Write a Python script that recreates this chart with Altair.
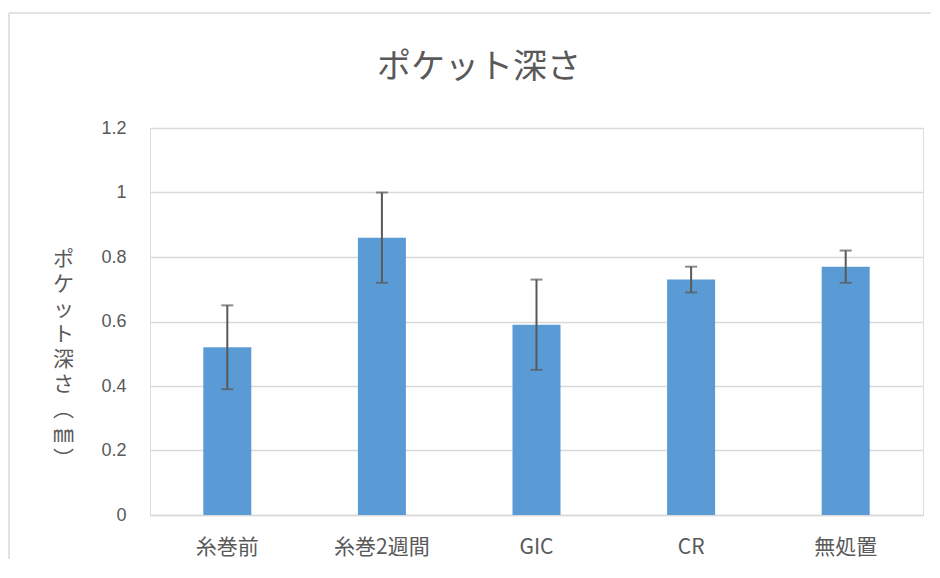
import altair as alt
import pandas as pd

categories = ["糸巻前", "糸巻2週間", "GIC", "CR", "無処置"]
means = [0.52, 0.86, 0.59, 0.73, 0.77]
errors = [0.13, 0.14, 0.14, 0.04, 0.05]

df = pd.DataFrame({
    "cat": categories,
    "mean": means,
    "lo": [m - e for m, e in zip(means, errors)],
    "hi": [m + e for m, e in zip(means, errors)],
})

TEXT = "#595959"
GRID = "#D9D9D9"
JP = "Noto Sans CJK JP"

chart_title = "ポケット深さ"
ytitle = ["ポ", "ケ", "ッ", "ト", "深", "さ", "︵", "㎜", "︶"]

x = alt.X("cat:N", sort=categories, title=None,
          scale=alt.Scale(paddingInner=0, paddingOuter=0),
          axis=alt.Axis(labelAngle=0, labelFont=JP, labelFontSize=21, labelColor=TEXT,
                        labelPadding=21, ticks=False, tickSize=0, domainColor=GRID,
                        domainWidth=1.5, grid=False))
y = alt.Y("mean:Q", title=ytitle,
          scale=alt.Scale(domain=[0, 1.2], nice=False),
          axis=alt.Axis(values=[0, 0.2, 0.4, 0.6, 0.8, 1, 1.2], format="~g",
                        labelFont="Liberation Sans",
                        labelFontSize=18, labelColor=TEXT, labelPadding=24, ticks=False,
                        tickSize=0, domain=False, gridColor=GRID, gridWidth=1.5,
                        titleAngle=0, titleFont=JP, titleFontSize=21, titleColor=TEXT,
                        titleFontWeight="normal", titleLineHeight=25, titleAlign="center",
                        titleBaseline="top", titleX=-87, titleY=120))

base = alt.Chart(df)

bars = base.mark_bar(size=48, color="#5B9BD5").encode(x=x, y=y)
rules = base.mark_rule(color=TEXT, strokeWidth=2).encode(
    x=alt.X("cat:N", sort=categories), y="lo:Q", y2="hi:Q")
caps_hi = base.mark_tick(color=TEXT, size=12, thickness=2).encode(
    x=alt.X("cat:N", sort=categories), y="hi:Q")
caps_lo = base.mark_tick(color=TEXT, size=12, thickness=2).encode(
    x=alt.X("cat:N", sort=categories), y="lo:Q")

one = pd.DataFrame({"t": [chart_title]})
frame_left = alt.Chart(one).mark_rule(color=GRID, strokeWidth=1.5, clip=False).encode(
    x=alt.value(-141), y=alt.value(-115), y2=alt.value(431))
frame_top = alt.Chart(one).mark_rule(color=GRID, strokeWidth=1.5, clip=False).encode(
    x=alt.value(-141), x2=alt.value(781), y=alt.value(-115))
title = alt.Chart(one).mark_text(font=JP, fontSize=34, color=TEXT, baseline="alphabetic",
                                 align="center").encode(
    text="t:N", x=alt.value(329), y=alt.value(-50))

chart = alt.layer(frame_left, frame_top, title, bars, rules, caps_hi, caps_lo).properties(
    width=773, height=387,
    padding={"left": 142, "top": 120, "right": 8, "bottom": 44},
    autosize=alt.AutoSizeParams(type="none"),
).configure_view(stroke="transparent", strokeWidth=0).configure(background="white")

chart.save("out.html", embed_options={"renderer": "svg", "actions": False})
